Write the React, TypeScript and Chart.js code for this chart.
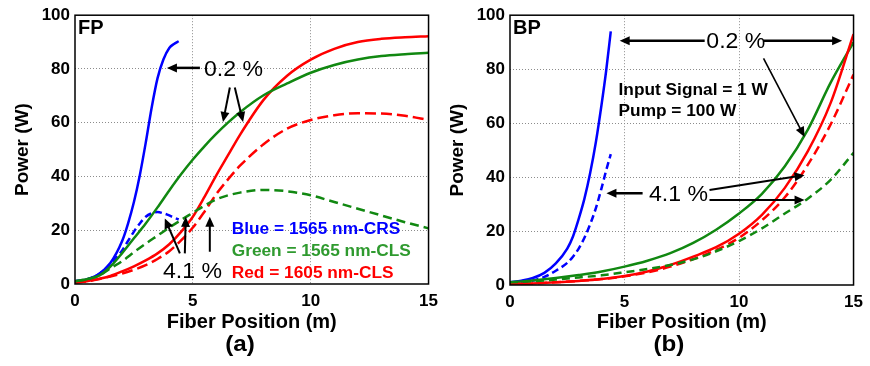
import { useEffect, useRef } from 'react';
import { Chart, registerables } from 'chart.js';

Chart.register(...registerables);

const FONT = "'Liberation Sans', Arial, Helvetica, sans-serif";

const BLUE = '#0000ff';
const GREEN = '#118811';
const RED = '#ff0000';
const GREEN_TEXT = '#2f9a2f';

// ---- Panel (a): forward pumping (FP) ----
const FP_X_BLUE = [0, 0.5, 1, 1.5, 2, 2.25, 2.5, 2.75, 3, 3.25, 3.5, 3.75, 4, 4.2, 4.4];
const FP_BLUE_02 = [1, 1.7, 3.6, 7.8, 16, 22.5, 30.5, 40.5, 52.5, 65.5, 76.5, 83.5, 87.8, 89.3, 90.3];
const FP_BLUE_41 = [1, 1.7, 3.6, 7.5, 12.5, 16, 19.5, 22.5, 25, 26.3, 26.8, 26.3, 25.5, 24.7, 24];

const FP_X = [0, 0.5, 1, 1.5, 2, 2.5, 3, 3.5, 4, 4.5, 5, 5.5, 6, 6.5, 7, 8, 9, 10, 11, 12, 13, 14, 15];
const FP_GREEN_02 = [1, 1.8, 3, 6.5, 11.5, 17, 22.5, 28.5, 34.8, 40.8, 46.3, 51.3, 55.9, 60.1, 63.9, 70.2, 74.6, 78.6, 81.5, 83.5, 84.8, 85.5, 86];
const FP_GREEN_41 = [1, 1.8, 3, 5.8, 8.5, 11.8, 15, 18, 21, 23.8, 26.5, 29.2, 31.5, 33, 34, 35, 34.5, 33, 30.5, 28, 25.5, 23, 20.7];
const FP_RED_02 = [0.5, 1, 1.9, 3, 4.7, 6.6, 8.8, 11.4, 14.8, 19.4, 25, 32.5, 40.5, 48, 55.5, 68.5, 77.5, 83.5, 87.5, 90, 91.2, 91.8, 92.2];
const FP_RED_41 = [0.5, 1, 1.8, 2.8, 3.9, 5.3, 7, 9.3, 12.2, 16.2, 21, 27, 33.5, 39, 44, 52, 57.8, 61, 62.8, 63.5, 63.4, 62.6, 61];

// ---- Panel (b): backward pumping (BP) ----
const BP_X_BLUE = [0, 0.5, 1, 1.5, 2, 2.5, 2.75, 3, 3.25, 3.5, 3.75, 4, 4.2, 4.4];
const BP_BLUE_02 = [1, 1.6, 2.6, 4.5, 8, 13.5, 18, 24.5, 32, 41.5, 53, 67, 79.5, 94];
const BP_BLUE_41 = [0.5, 0.9, 1.7, 3, 5.3, 8.2, 10.5, 13.5, 17.5, 22.5, 28.5, 36, 42.5, 48.5];

const BP_X = [0, 1, 2, 3, 4, 5, 6, 7, 8, 9, 10, 11, 12, 13, 14, 15];
const BP_GREEN_02 = [1, 1.7, 2.6, 3.7, 5, 6.8, 9, 11.8, 15.6, 20.5, 26.5, 33.8, 44, 57.5, 75, 90];
const BP_GREEN_41 = [1, 1.4, 2, 2.8, 3.6, 4.7, 5.9, 7.4, 9.5, 12.5, 16.3, 21, 26.5, 32, 39, 49];
const BP_RED_02 = [0.3, 0.6, 1, 1.5, 2.2, 3.3, 5, 7.4, 10.5, 14, 19, 26, 36, 49.5, 67.5, 93];
const BP_RED_41 = [0.3, 0.6, 1, 1.5, 2.2, 3.2, 4.7, 6.8, 9.6, 13, 17.5, 24, 32.5, 44.5, 59.5, 78];

const X_MIN = 0;
const X_MAX = 15;
const X_STEP = 5;
const Y_MIN = 0;
const Y_MAX = 100;
const Y_STEP = 20;

const X_TITLE = 'Fiber Position (m)';
const Y_TITLE = 'Power (W)';

type Txt = { t: string; x: number; y: number; font: string; color?: string; align?: CanvasTextAlign; sx?: number };
type Arr = { x1: number; y1: number; x2: number; y2: number; w?: number };

const NORMAL22 = `22px ${FONT}`;
const BOLD16 = `bold 16px ${FONT}`;

const FP_TEXTS: Txt[] = [
  { t: 'FP', x: 0.13, y: 95.2, font: `bold 20px ${FONT}` },
  { t: '0.2 %', x: 5.47, y: 79.6, font: NORMAL22, sx: 1.05 },
  { t: '4.1 %', x: 3.73, y: 4.6, font: NORMAL22, sx: 1.05 },
  { t: 'Blue = 1565 nm-CRS', x: 6.65, y: 20.1, font: BOLD16, color: BLUE, sx: 1.08 },
  { t: 'Green = 1565 nm-CLS', x: 6.65, y: 12.0, font: BOLD16, color: GREEN_TEXT, sx: 1.08 },
  { t: 'Red = 1605 nm-CLS', x: 6.65, y: 4.0, font: BOLD16, color: RED, sx: 1.08 },
  { t: '(a)', x: 7.0, y: -22.7, font: `bold 22px ${FONT}`, align: 'center', sx: 1.1 },
];
const FP_ARROWS: Arr[] = [
  { x1: 5.3, y1: 80.4, x2: 3.9, y2: 80.4, w: 2.5 },
  { x1: 6.57, y1: 73.1, x2: 6.28, y2: 60.3 },
  { x1: 6.78, y1: 73.1, x2: 7.13, y2: 60.3 },
  { x1: 4.45, y1: 11.4, x2: 3.81, y2: 24.4 },
  { x1: 4.66, y1: 11.4, x2: 4.7, y2: 25.0 },
  { x1: 5.72, y1: 12.0, x2: 5.72, y2: 25.0 },
];

const BP_TEXTS: Txt[] = [
  { t: 'BP', x: 0.13, y: 95, font: `bold 20px ${FONT}` },
  { t: '0.2 %', x: 8.57, y: 90.1, font: NORMAL22, sx: 1.05 },
  { t: 'Input Signal = 1 W', x: 4.74, y: 72.0, font: BOLD16, sx: 1.08 },
  { t: 'Pump = 100 W', x: 4.74, y: 64.2, font: BOLD16, sx: 1.08 },
  { t: '4.1 %', x: 6.07, y: 33.3, font: NORMAL22, sx: 1.05 },
  { t: '(b)', x: 6.94, y: -22.2, font: `bold 22px ${FONT}`, align: 'center', sx: 1.1 },
];
const BP_ARROWS: Arr[] = [
  { x1: 8.5, y1: 90.5, x2: 4.79, y2: 90.5, w: 2.5 },
  { x1: 11.07, y1: 90.5, x2: 14.5, y2: 90.5, w: 2.5 },
  { x1: 11.07, y1: 84.0, x2: 12.86, y2: 54.9, w: 1.6 },
  { x1: 5.79, y1: 34.0, x2: 4.21, y2: 34.0, w: 2.5 },
  { x1: 8.71, y1: 35.2, x2: 12.86, y2: 40.7, w: 2 },
  { x1: 8.71, y1: 31.5, x2: 12.86, y2: 31.5, w: 2 },
];

const pts = (xs: number[], ys: number[]) => ys.map((y, i) => ({ x: xs[i], y }));

function ds(label: string, xs: number[], ys: number[], color: string, dash: number[]) {
  return {
    label,
    data: pts(xs, ys),
    borderColor: color,
    backgroundColor: color,
    borderWidth: 2.5,
    borderDash: dash,
    pointRadius: 0,
    cubicInterpolationMode: 'monotone' as const,
    fill: false,
  };
}

function annotationPlugin(texts: Txt[], arrows: Arr[]) {
  return {
    id: 'annot',
    afterDatasetsDraw(chart: any) {
      const { ctx, chartArea: a } = chart;
      ctx.save();
      ctx.strokeStyle = '#000';
      ctx.lineWidth = 1.5;
      ctx.strokeRect(a.left, a.top, a.right - a.left, a.bottom - a.top);
      ctx.restore();
    },
    afterDraw(chart: any) {
      const { ctx } = chart;
      const xs = chart.scales.x;
      const ys = chart.scales.y;
      ctx.save();
      ctx.strokeStyle = '#000';
      ctx.fillStyle = '#000';
      for (const ar of arrows) {
        const x1 = xs.getPixelForValue(ar.x1);
        const y1 = ys.getPixelForValue(ar.y1);
        const x2 = xs.getPixelForValue(ar.x2);
        const y2 = ys.getPixelForValue(ar.y2);
        const ang = Math.atan2(y2 - y1, x2 - x1);
        const c = Math.cos(ang);
        const s = Math.sin(ang);
        const L = 10;
        const H = 4.5;
        const bx = x2 - L * c;
        const by = y2 - L * s;
        ctx.lineWidth = ar.w ?? 2;
        ctx.beginPath();
        ctx.moveTo(x1, y1);
        ctx.lineTo(bx + c, by + s);
        ctx.stroke();
        ctx.beginPath();
        ctx.moveTo(x2, y2);
        ctx.lineTo(bx + H * s, by - H * c);
        ctx.lineTo(bx - H * s, by + H * c);
        ctx.closePath();
        ctx.fill();
      }
      for (const t of texts) {
        const px = xs.getPixelForValue(t.x);
        const py = ys.getPixelForValue(t.y);
        ctx.save();
        ctx.font = t.font;
        ctx.fillStyle = t.color || '#000';
        ctx.textAlign = t.align || 'left';
        ctx.textBaseline = 'middle';
        ctx.translate(px, py);
        ctx.scale(t.sx || 1, 1);
        ctx.fillText(t.t, 0, 0);
        ctx.restore();
      }
      ctx.restore();
    },
  };
}

type PanelCfg = {
  datasets: any[];
  texts: Txt[];
  arrows: Arr[];
  yWidth: number;
  xHeight: number;
  yTitlePad: number;
  padRight: number;
};

function makeConfig(p: PanelCfg): any {
  const gridColor = (min: number, max: number) => (ctx: any) => {
    const v = ctx.tick ? ctx.tick.value : null;
    return v === min || v === max ? 'rgba(0,0,0,0)' : '#8c8c8c';
  };
  return {
    type: 'line',
    data: { datasets: p.datasets },
    options: {
      animation: false,
      responsive: false,
      events: [],
      layout: { padding: { top: 15, right: p.padRight, left: 0, bottom: 0 } },
      plugins: { legend: { display: false }, tooltip: { enabled: false }, title: { display: false } },
      scales: {
        x: {
          type: 'linear',
          min: X_MIN,
          max: X_MAX,
          ticks: { stepSize: X_STEP, color: '#000', font: { family: FONT, size: 17, weight: 'bold' }, padding: 7, maxRotation: 0 },
          grid: { color: gridColor(X_MIN, X_MAX), lineWidth: 1, drawTicks: false },
          border: { display: false, dash: [1, 2] },
          title: { display: true, text: X_TITLE, color: '#000', font: { family: FONT, size: 20, weight: 'bold' }, padding: { top: 0, bottom: 32 } },
          afterFit: (s: any) => { s.height = p.xHeight; },
        },
        y: {
          type: 'linear',
          min: Y_MIN,
          max: Y_MAX,
          ticks: { stepSize: Y_STEP, color: '#000', font: { family: FONT, size: 17, weight: 'bold' }, padding: 5 },
          grid: { color: gridColor(Y_MIN, Y_MAX), lineWidth: 1, drawTicks: false },
          border: { display: false, dash: [1, 2] },
          title: { display: true, text: Y_TITLE, color: '#000', font: { family: FONT, size: 19, weight: 'bold' }, padding: { top: p.yTitlePad, bottom: 0 } },
          afterFit: (s: any) => { s.width = p.yWidth; },
        },
      },
    },
    plugins: [annotationPlugin(p.texts, p.arrows)],
  };
}

const FP_DATASETS = [
  ds('Green 0.2%', FP_X, FP_GREEN_02, GREEN, []),
  ds('Green 4.1%', FP_X, FP_GREEN_41, GREEN, [9, 5]),
  ds('Red 4.1%', FP_X, FP_RED_41, RED, [11, 5]),
  ds('Red 0.2%', FP_X, FP_RED_02, RED, []),
  ds('Blue 4.1%', FP_X_BLUE, FP_BLUE_41, BLUE, [7, 4]),
  ds('Blue 0.2%', FP_X_BLUE, FP_BLUE_02, BLUE, []),
];

const BP_DATASETS = [
  ds('Green 4.1%', BP_X, BP_GREEN_41, GREEN, [8, 5]),
  ds('Red 4.1%', BP_X, BP_RED_41, RED, [9, 5]),
  ds('Red 0.2%', BP_X, BP_RED_02, RED, []),
  ds('Green 0.2%', BP_X, BP_GREEN_02, GREEN, []),
  ds('Blue 4.1%', BP_X_BLUE, BP_BLUE_41, BLUE, [7, 4]),
  ds('Blue 0.2%', BP_X_BLUE, BP_BLUE_02, BLUE, []),
];

export default function App() {
  const leftRef = useRef<HTMLCanvasElement>(null);
  const rightRef = useRef<HTMLCanvasElement>(null);

  useEffect(() => {
    document.body.style.margin = '0';
    Chart.defaults.font.family = FONT;
    const c1 = new Chart(leftRef.current as HTMLCanvasElement, makeConfig({
      datasets: FP_DATASETS, texts: FP_TEXTS, arrows: FP_ARROWS,
      yWidth: 75, xHeight: 82, yTitlePad: 11, padRight: 16,
    }));
    const c2 = new Chart(rightRef.current as HTMLCanvasElement, makeConfig({
      datasets: BP_DATASETS, texts: BP_TEXTS, arrows: BP_ARROWS,
      yWidth: 65, xHeight: 81, yTitlePad: 1, padRight: 10,
    }));
    return () => { c1.destroy(); c2.destroy(); };
  }, []);

  return (
    <div style={{ position: 'fixed', left: 0, top: 0, width: 870, height: 366, background: '#fff', overflow: 'hidden' }}>
      <canvas ref={leftRef} width={445} height={366} style={{ position: 'absolute', left: 0, top: 0, width: 445, height: 366 }} />
      <canvas ref={rightRef} width={425} height={366} style={{ position: 'absolute', left: 445, top: 0, width: 425, height: 366 }} />
    </div>
  );
}
